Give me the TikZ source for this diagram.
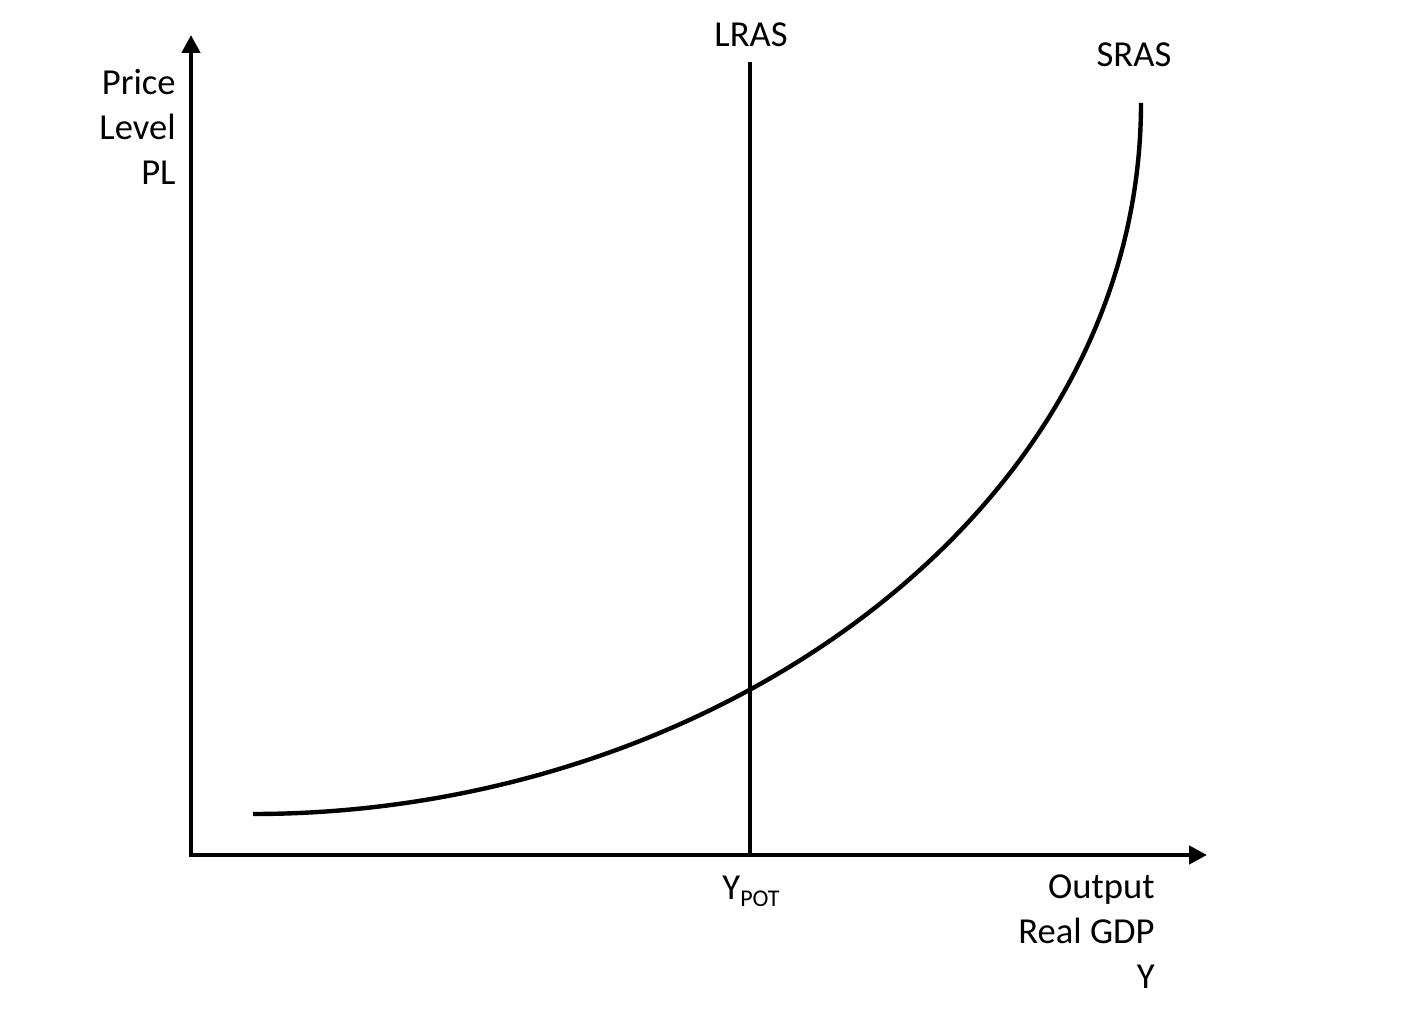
\documentclass[tikz,border=0pt]{standalone}
\usepackage{fontspec}
\setmainfont{Carlito}
\usetikzlibrary{positioning}
\usetikzlibrary{arrows.meta}

\begin{document}
\begin{tikzpicture}[x=0.5pt,y=0.5pt,
		axis/.style={line width=2.2pt,{Triangle[length=9pt,width=9pt]}-{Triangle[length=9pt,width=9pt]}},
		curve/.style={line width=2.2pt},
		lbl/.style={font=\fontsize{18.3}{22.5}\selectfont,inner sep=0pt}]
				\useasboundingbox (-191,-167) rectangle (1211,855);
				
				% axes
				\coordinate (O) at (0,0);
				\coordinate (ytop) at (0,820);
				\coordinate (xend) at (1016,0);
				\draw[axis] (ytop) -- (O) -- (xend);
				
				% long run supply
				\coordinate (lrasbot) at (559,0);
				\coordinate (lrastop) at (559,793);
				\draw[curve] (lrasbot) -- (lrastop);
				
				% short run supply
				\coordinate (srasbot) at (62,41);
				\coordinate (srastop) at (950,752);
				\draw[curve] (srasbot) .. controls (525,41) and (950,345) .. (srastop);
				
				\node[lbl] (lras) at (560,820) {LRAS};
				\node[lbl] (sras) at (943,800) {SRAS};
				
				\node[lbl,align=right,anchor=east] (pl) at (-15,728) {Price\\Level\\PL};
				\node[lbl,align=right,anchor=east] (gdp) at (964,-77) {Output\\Real GDP\\Y};
				
				\node[lbl,anchor=base] (ypot) at (560,-44) {Y\raisebox{-4pt}{\fontsize{12}{12}\selectfont POT}};
			\end{tikzpicture}
\end{document}
